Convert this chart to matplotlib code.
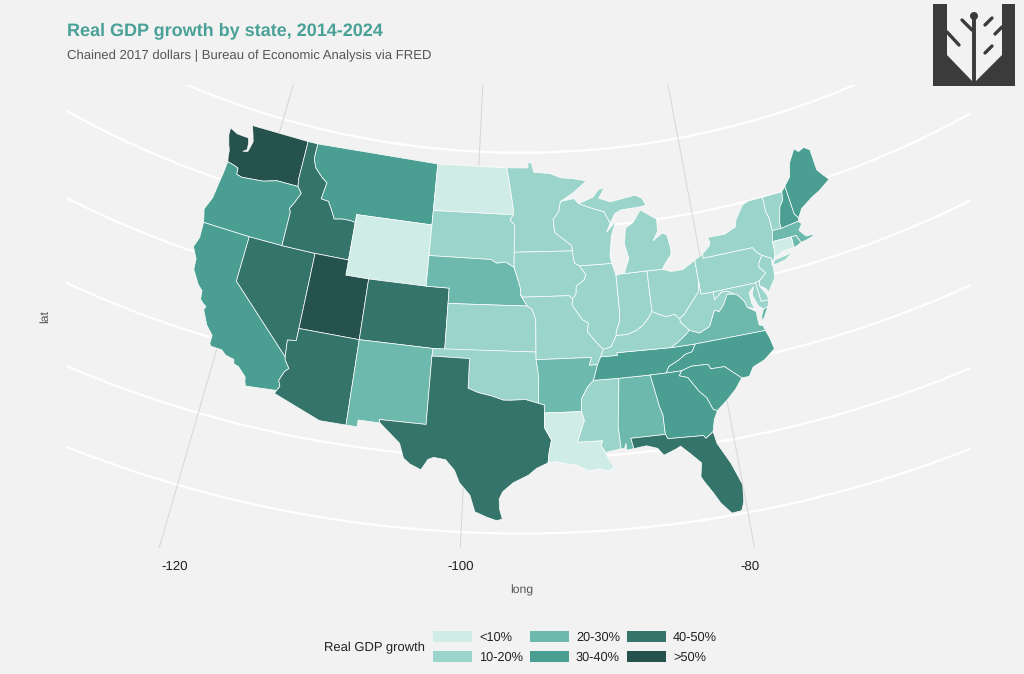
import numpy as np
import matplotlib
matplotlib.use('Agg')
import matplotlib.pyplot as plt
from matplotlib.patches import Patch, Polygon, Circle

plt.rcParams['font.family'] = ['Liberation Sans', 'DejaVu Sans']
plt.rcParams['text.hinting'] = 'no_hinting'
plt.rcParams['text.hinting_factor'] = 8

BG = '#F2F2F2'
W, H = 1024, 674

bin_labels = ['<10%', '10-20%', '20-30%', '30-40%', '40-50%', '>50%']
bin_colors = ['#D0ECE6', '#9BD4CB', '#6DB9AE', '#4A9F92', '#35746B', '#25524C']

# growth bin (index into bin_labels) per state
state_bins = {
    'WY': 0, 'ND': 0, 'LA': 0, 'CT': 0,
    'MN': 1, 'SD': 1, 'WI': 1, 'MI': 1, 'MIU': 1, 'IA': 1, 'IL': 1, 'IN': 1, 'OH': 1, 'KY': 1,
    'WV': 1, 'PA': 1, 'NY': 1, 'LI': 1, 'VT': 1, 'NJ': 1, 'MD': 1, 'DE': 1, 'MO': 1, 'KS': 1,
    'OK': 1, 'MS': 1,
    'NE': 2, 'NM': 2, 'AR': 2, 'AL': 2, 'VA': 2, 'VAE': 2, 'MA': 2, 'RI': 2,
    'OR': 3, 'CA': 3, 'MT': 3, 'TN': 3, 'GA': 3, 'SC': 3, 'NC': 3, 'NH': 3, 'ME': 3,
    'ID': 4, 'NV': 4, 'CO': 4, 'AZ': 4, 'TX': 4, 'FL': 4,
    'WA': 5, 'UT': 5,
}

# shared borders, lon/lat
columbia = [(-116.92, 45.99), (-118.98, 46.0), (-119.3, 45.93), (-120.2, 45.73), (-121.2, 45.65),
            (-122.2, 45.57), (-122.75, 45.65), (-122.8, 46.05), (-123.2, 46.15), (-123.9, 46.25)]
colorado_r = [(-114.63, 35.0), (-114.57, 34.8), (-114.14, 34.3), (-114.43, 34.05), (-114.72, 33.4),
              (-114.53, 33.03), (-114.72, 32.72)]
id_mt = [(-116.05, 48.0), (-115.7, 47.45), (-114.95, 46.95), (-114.35, 46.65), (-114.55, 45.56),
         (-113.85, 45.5), (-113.45, 45.05), (-113.0, 44.45), (-112.3, 44.55), (-111.5, 44.55),
         (-111.05, 44.48)]
red_r = [(-100.0, 34.56), (-99.2, 34.3), (-98.1, 34.1), (-97.2, 33.85), (-96.6, 33.85), (-95.5, 33.9),
         (-94.48, 33.64)]
missouri_r = [(-96.45, 42.5), (-96.1, 41.7), (-95.9, 41.2), (-95.85, 40.7), (-95.77, 40.58)]
miss_upper = [(-91.22, 43.5), (-91.1, 42.7), (-90.65, 42.5), (-90.15, 41.9), (-90.35, 41.55),
              (-91.05, 41.2), (-91.1, 40.7), (-91.42, 40.38)]
miss_il_mo = [(-91.42, 40.38), (-91.5, 40.0), (-90.7, 39.0), (-90.2, 38.75), (-90.35, 38.2),
              (-89.5, 37.3), (-89.13, 36.98)]
miss_ar = [(-90.1, 35.0), (-90.6, 34.6), (-91.15, 33.8), (-91.17, 33.0)]
ohio_ky_in = [(-84.82, 39.1), (-85.2, 38.7), (-85.7, 38.3), (-86.3, 38.0), (-87.1, 37.8), (-88.0, 37.8)]
ohio_ky_oh = [(-82.6, 38.4), (-83.0, 38.72), (-83.7, 38.65), (-84.25, 38.85), (-84.82, 39.1)]
ohio_ky_il = [(-88.0, 37.8), (-88.5, 37.1), (-89.13, 36.98)]
ohio_wv = [(-80.52, 40.64), (-80.7, 39.9), (-81.75, 39.0), (-82.2, 38.6), (-82.6, 38.4)]
va_wv = [(-77.75, 39.32), (-78.35, 39.4), (-78.85, 38.75), (-79.3, 38.4), (-79.65, 38.55),
         (-80.3, 37.55), (-81.2, 37.25), (-81.97, 37.54)]
ky_va = [(-83.68, 36.6), (-83.1, 36.85), (-82.3, 37.3), (-81.97, 37.54)]
tn_nc = [(-81.68, 36.59), (-82.05, 36.12), (-82.6, 36.03), (-83.2, 35.72), (-84.05, 35.4), (-84.32, 35.0)]
nc_sc = [(-83.1, 35.0), (-82.3, 35.2), (-81.05, 35.15), (-80.93, 35.1), (-80.8, 34.82), (-79.7, 34.8),
         (-78.55, 33.85)]
ga_sc = [(-83.1, 35.0), (-83.35, 34.7), (-82.7, 34.5), (-82.0, 33.5), (-81.5, 33.0), (-81.15, 32.15),
         (-80.85, 32.05)]
ny_pa_nj = [(-75.35, 42.0), (-75.05, 41.6), (-74.7, 41.36)]
pa_nj = [(-74.7, 41.36), (-75.1, 40.95), (-75.2, 40.65), (-74.75, 40.2), (-75.4, 39.8)]
md_va = [(-76.35, 38.1), (-76.95, 38.3), (-77.05, 38.7), (-77.5, 39.2), (-77.75, 39.32)]
md_wv = [(-77.75, 39.32), (-78.35, 39.6), (-78.8, 39.6), (-79.48, 39.2), (-79.48, 39.72)]
vt_nh = [(-71.5, 45.01), (-71.6, 44.5), (-72.05, 44.1), (-72.45, 43.1), (-72.46, 42.73)]
rev = lambda pts: pts[::-1]

states = {
    'WA': [(-124.7, 48.4), (-123.9, 48.17), (-123.1, 48.15), (-122.75, 48.15), (-122.6, 47.9), (-122.5, 47.4),
           (-122.85, 47.2), (-122.4, 47.3), (-122.3, 47.6), (-122.2, 48.0), (-122.45, 48.5), (-122.75, 49.0),
           (-117.03, 49.0), (-117.04, 46.43)] + columbia
          + [(-124.05, 46.65), (-124.1, 46.95), (-124.35, 47.35), (-124.65, 47.95)],
    'OR': rev(columbia) + [(-116.47, 45.6), (-116.85, 44.95), (-117.2, 44.45), (-117.03, 44.25), (-117.03, 42.0),
                           (-120.0, 42.0), (-124.2, 42.0), (-124.4, 42.5), (-124.55, 42.84), (-124.15, 43.7),
                           (-124.05, 44.7), (-123.95, 45.5)],
    'CA': [(-124.2, 42.0), (-120.0, 42.0), (-120.0, 39.0)] + colorado_r
          + [(-117.12, 32.53), (-117.25, 32.85), (-117.3, 33.1), (-118.0, 33.65), (-118.4, 33.75), (-118.5, 34.03),
             (-119.2, 34.15), (-119.6, 34.42), (-120.5, 34.45), (-120.65, 34.6), (-120.65, 35.15), (-121.3, 35.7),
             (-121.9, 36.6), (-121.8, 36.85), (-122.05, 36.95), (-122.4, 37.2), (-122.5, 37.75), (-122.95, 38.05),
             (-123.7, 38.9), (-123.8, 39.6), (-124.35, 40.3), (-124.1, 41.0)],
    'NV': [(-120.0, 42.0), (-117.03, 42.0), (-114.04, 42.0), (-114.04, 37.0), (-114.04, 36.2), (-114.75, 36.1),
           (-114.63, 35.0), (-120.0, 39.0)],
    'ID': [(-117.03, 49.0), (-116.05, 49.0)] + id_mt
          + [(-111.05, 42.0), (-114.04, 42.0), (-117.03, 42.0), (-117.03, 44.25), (-117.2, 44.45), (-116.85, 44.95),
             (-116.47, 45.6), (-116.92, 45.99), (-117.04, 46.43)],
    'MT': [(-116.05, 49.0), (-104.05, 49.0), (-104.05, 45.94), (-104.05, 45.0), (-111.05, 45.0)] + rev(id_mt),
    'WY': [(-111.05, 45.0), (-104.05, 45.0), (-104.05, 43.0), (-104.05, 41.0), (-109.05, 41.0), (-111.05, 41.0)],
    'UT': [(-114.04, 42.0), (-111.05, 42.0), (-111.05, 41.0), (-109.05, 41.0), (-109.05, 37.0), (-114.04, 37.0)],
    'CO': [(-109.05, 41.0), (-104.05, 41.0), (-102.05, 41.0), (-102.05, 40.0), (-102.05, 37.0), (-103.0, 37.0),
           (-109.05, 37.0)],
    'AZ': [(-114.04, 37.0), (-109.05, 37.0), (-109.05, 31.33), (-111.07, 31.33), (-114.82, 32.5)] + rev(colorado_r)
          + [(-114.75, 36.1), (-114.04, 36.2)],
    'NM': [(-109.05, 37.0), (-103.0, 37.0), (-103.04, 36.5), (-103.05, 32.0), (-106.62, 32.0), (-106.53, 31.78),
           (-108.2, 31.78), (-108.2, 31.33), (-109.05, 31.33)],
    'ND': [(-104.05, 49.0), (-97.23, 49.0), (-96.85, 47.6), (-96.55, 46.3), (-96.56, 45.94), (-104.05, 45.94)],
    'SD': [(-104.05, 45.94), (-96.56, 45.94), (-96.85, 45.6), (-96.45, 45.3), (-96.45, 43.5), (-96.45, 42.5),
           (-97.2, 42.85), (-98.0, 42.77), (-98.5, 43.0), (-104.05, 43.0)],
    'NE': [(-104.05, 43.0), (-98.5, 43.0), (-98.0, 42.77), (-97.2, 42.85)] + missouri_r
          + [(-95.3, 40.0), (-102.05, 40.0), (-102.05, 41.0), (-104.05, 41.0)],
    'KS': [(-102.05, 40.0), (-95.3, 40.0), (-94.9, 39.8), (-94.6, 39.1), (-94.62, 37.0), (-102.05, 37.0)],
    'OK': [(-103.0, 37.0), (-94.62, 37.0), (-94.62, 36.5), (-94.43, 35.4), (-94.48, 33.64)] + rev(red_r)
          + [(-100.0, 36.5), (-103.04, 36.5)],
    'TX': [(-103.04, 36.5), (-100.0, 36.5)] + red_r
          + [(-94.04, 33.55), (-94.04, 33.0), (-94.04, 32.0), (-93.55, 31.2), (-93.75, 30.4), (-93.85, 29.7),
             (-94.7, 29.35), (-95.3, 28.9), (-96.4, 28.4), (-97.15, 27.8), (-97.4, 27.3), (-97.35, 26.6),
             (-97.15, 25.96), (-97.55, 25.85), (-98.2, 26.05), (-99.1, 26.4), (-99.5, 27.5), (-100.3, 28.3),
             (-100.7, 29.1), (-101.4, 29.77), (-102.3, 29.87), (-102.7, 29.7), (-103.15, 28.98), (-104.0, 29.3),
             (-104.5, 29.65), (-104.9, 30.6), (-106.0, 31.4), (-106.53, 31.78), (-106.62, 32.0), (-103.05, 32.0)],
    'MN': [(-97.23, 49.0), (-95.15, 49.0), (-95.15, 49.38), (-94.8, 49.3), (-94.6, 48.72), (-93.0, 48.6),
           (-92.0, 48.3), (-90.8, 48.2), (-89.5, 48.0), (-90.8, 47.3), (-92.1, 46.75), (-92.3, 46.1), (-92.85, 45.6),
           (-92.75, 44.75), (-91.25, 43.85), (-91.22, 43.5), (-96.45, 43.5), (-96.45, 45.3), (-96.85, 45.6),
           (-96.56, 45.94), (-96.55, 46.3), (-96.85, 47.6)],
    'IA': [(-96.45, 43.5)] + miss_upper + [(-91.72, 40.6), (-95.77, 40.58)] + rev(missouri_r),
    'MO': [(-95.77, 40.58), (-91.72, 40.6)] + miss_il_mo
          + [(-89.4, 36.5), (-89.7, 36.0), (-90.37, 36.0), (-90.15, 36.5), (-94.62, 36.5), (-94.62, 37.0), (-94.6, 39.1),
             (-94.9, 39.8), (-95.3, 40.0), (-95.85, 40.7)],
    'AR': [(-94.62, 36.5), (-90.15, 36.5), (-90.37, 36.0), (-89.7, 36.0)] + miss_ar
          + [(-94.04, 33.0), (-94.04, 33.55), (-94.48, 33.64), (-94.43, 35.4)],
    'LA': [(-94.04, 33.0), (-91.17, 33.0), (-91.0, 32.4), (-91.6, 31.0), (-89.73, 31.0), (-89.85, 30.65),
           (-89.55, 30.2), (-89.4, 29.8), (-89.0, 29.2), (-89.4, 28.95), (-90.1, 29.15), (-90.9, 29.05), (-91.8, 29.5),
           (-92.3, 29.55), (-93.2, 29.77), (-93.85, 29.7), (-93.75, 30.4), (-93.55, 31.2), (-94.04, 32.0)],
    'MS': [(-90.1, 35.0), (-88.2, 35.0), (-88.1, 34.9), (-88.47, 31.9), (-88.4, 30.37), (-89.55, 30.2),
           (-89.85, 30.65), (-89.73, 31.0), (-91.6, 31.0), (-91.0, 32.4)] + rev(miss_ar),
    'AL': [(-88.2, 35.0), (-85.6, 35.0), (-85.18, 32.87), (-85.0, 32.3), (-85.0, 31.0), (-87.6, 31.0), (-87.45, 30.3),
           (-88.0, 30.25), (-88.0, 30.7), (-88.15, 30.35), (-88.4, 30.37), (-88.47, 31.9), (-88.1, 34.9)],
    'TN': [(-89.7, 36.0), (-89.4, 36.5), (-88.05, 36.5), (-88.07, 36.68), (-83.68, 36.6)] + tn_nc
          + [(-85.6, 35.0), (-88.2, 35.0), (-90.1, 35.0)],
    'KY': [(-89.13, 36.98), (-89.4, 36.5), (-88.05, 36.5), (-88.07, 36.68)] + ky_va
          + [(-82.6, 38.17)] + ohio_ky_oh + ohio_ky_in + ohio_ky_il[1:],
    'IL': [(-90.65, 42.5), (-87.8, 42.5), (-87.53, 41.7), (-87.53, 39.35), (-87.6, 38.7), (-87.95, 38.1)]
          + ohio_ky_il + rev(miss_il_mo) + [(-91.1, 40.7), (-91.05, 41.2), (-90.35, 41.55), (-90.15, 41.9)],
    'IN': [(-87.53, 41.7), (-87.2, 41.75), (-86.8, 41.76), (-84.8, 41.76)] + ohio_ky_in
          + [(-87.95, 38.1), (-87.6, 38.7), (-87.53, 39.35)],
    'OH': [(-84.8, 41.76), (-83.45, 41.73), (-82.7, 41.5), (-81.7, 41.5), (-80.52, 41.98)] + ohio_wv + ohio_ky_oh[1:],
    'MI': [(-86.8, 41.76), (-84.8, 41.76), (-83.45, 41.73), (-83.15, 42.05), (-82.5, 42.6), (-82.45, 43.0),
           (-82.6, 43.9), (-83.0, 44.07), (-83.9, 43.65), (-83.4, 44.2), (-83.3, 45.0), (-84.7, 45.75), (-85.5, 45.0),
           (-86.25, 44.7), (-86.5, 43.65), (-86.25, 42.7)],
    'MIU': [(-90.4, 46.55), (-89.0, 46.9), (-88.45, 47.35), (-87.85, 47.45), (-88.45, 46.8), (-87.4, 46.5),
            (-85.0, 46.75), (-84.4, 46.5), (-84.1, 46.0), (-84.75, 45.95), (-86.5, 45.9), (-87.1, 45.7), (-87.6, 45.1),
            (-88.1, 45.9), (-89.1, 46.15)],
    'WI': [(-92.1, 46.75), (-90.8, 46.9), (-90.4, 46.55), (-89.1, 46.15), (-88.1, 45.9), (-87.6, 45.1), (-88.0, 44.55),
           (-87.05, 45.25), (-87.6, 44.3), (-87.9, 43.0), (-87.8, 42.5), (-90.65, 42.5), (-91.1, 42.7), (-91.22, 43.5),
           (-91.25, 43.85), (-92.75, 44.75), (-92.85, 45.6), (-92.3, 46.1)],
    'PA': [(-80.52, 41.98), (-79.76, 42.27), (-79.76, 42.0)] + ny_pa_nj + pa_nj
          + [(-75.8, 39.72), (-79.48, 39.72), (-80.52, 39.72), (-80.52, 40.64)],
    'NY': [(-79.76, 42.27), (-79.05, 42.7), (-78.9, 42.95), (-79.05, 43.27), (-77.5, 43.25), (-76.4, 43.55),
           (-76.2, 44.0), (-75.3, 44.85), (-74.7, 45.0), (-73.35, 45.01), (-73.4, 44.0), (-73.25, 43.6), (-73.27, 42.75),
           (-73.5, 42.05), (-73.55, 41.3), (-73.7, 41.0), (-74.0, 40.7), (-73.95, 41.0), (-74.7, 41.36), (-75.05, 41.6),
           (-75.35, 42.0), (-79.76, 42.0)],
    'LI': [(-74.0, 40.6), (-73.7, 40.87), (-72.6, 40.98), (-72.0, 41.1), (-72.8, 40.7), (-73.6, 40.58)],
    'NJ': [(-74.7, 41.36), (-73.95, 41.0), (-74.05, 40.65), (-74.0, 40.4), (-74.1, 39.75), (-74.9, 38.93),
           (-75.05, 39.2), (-75.55, 39.5)] + rev(pa_nj)[:-1],
    'DE': [(-75.8, 39.72), (-75.4, 39.8), (-75.55, 39.5), (-75.1, 38.8), (-75.05, 38.45), (-75.7, 38.46)],
    'MD': [(-79.48, 39.72), (-75.8, 39.72), (-75.7, 38.46), (-75.05, 38.45), (-75.25, 38.03), (-75.65, 37.95),
           (-76.0, 38.2), (-76.3, 39.0), (-76.05, 39.5), (-76.5, 39.2), (-76.5, 38.5)] + md_va + md_wv[1:],
    'VA': [(-83.68, 36.6), (-81.68, 36.59), (-75.9, 36.55), (-76.0, 36.9), (-76.3, 37.0), (-76.3, 37.5), (-76.3, 37.9)]
          + md_va[1:] + va_wv[1:] + rev(ky_va)[1:],
    'VAE': [(-75.65, 37.95), (-75.25, 38.03), (-75.95, 37.15), (-75.95, 37.5)],
    'WV': [(-80.52, 40.64), (-80.52, 39.72), (-79.48, 39.72)] + rev(md_wv)[1:] + va_wv[1:]
          + [(-82.6, 38.17)] + rev(ohio_wv)[:-1],
    'NC': [(-84.32, 35.0)] + rev(tn_nc)[1:] + [(-75.9, 36.55), (-75.7, 36.0), (-75.55, 35.25), (-76.5, 34.7), (-77.5, 34.4),
                                               (-77.95, 33.85)] + rev(nc_sc),
    'SC': nc_sc + [(-79.2, 33.2), (-80.0, 32.6)] + rev(ga_sc),
    'GA': [(-85.6, 35.0), (-84.32, 35.0)] + ga_sc
          + [(-81.2, 31.5), (-81.45, 30.72), (-82.05, 30.36), (-82.2, 30.57), (-84.86, 30.7), (-85.0, 31.0), (-85.0, 32.3),
             (-85.18, 32.87)],
    'FL': [(-87.6, 31.0), (-85.0, 31.0), (-84.86, 30.7), (-82.2, 30.57), (-82.05, 30.36), (-81.45, 30.72), (-81.3, 29.9),
           (-80.55, 28.45), (-80.0, 26.9), (-80.15, 25.75), (-80.4, 25.2), (-81.1, 25.15), (-81.75, 25.95), (-82.15, 26.7),
           (-82.7, 27.6), (-82.85, 27.9), (-82.65, 28.8), (-83.4, 29.55), (-84.0, 30.1), (-84.35, 29.95), (-85.3, 29.65),
           (-85.7, 30.15), (-86.5, 30.4), (-87.45, 30.3)],
    'VT': [(-73.35, 45.01)] + vt_nh + [(-73.27, 42.75), (-73.25, 43.6), (-73.4, 44.0)],
    'NH': [(-71.08, 45.3), (-70.98, 43.4), (-70.7, 43.07), (-70.82, 42.87)] + rev(vt_nh),
    'ME': [(-71.08, 45.3), (-70.4, 45.8), (-70.25, 46.2), (-70.0, 46.7), (-69.23, 47.46), (-68.9, 47.2), (-68.3, 47.35),
           (-67.8, 47.07), (-67.8, 45.7), (-67.45, 45.3), (-67.0, 44.85), (-68.2, 44.35), (-69.0, 44.1), (-70.2, 43.6),
           (-70.7, 43.07), (-70.98, 43.4)],
    'MA': [(-73.5, 42.05), (-73.27, 42.75), (-72.46, 42.73), (-70.82, 42.87), (-70.6, 42.65), (-71.0, 42.3), (-70.55, 41.8),
           (-70.05, 41.78), (-70.0, 42.05), (-69.95, 41.67), (-70.6, 41.55), (-71.12, 41.5), (-71.38, 42.02), (-71.8, 42.02)],
    'RI': [(-71.8, 42.02), (-71.38, 42.02), (-71.12, 41.5), (-71.5, 41.37), (-71.85, 41.32)],
    'CT': [(-73.5, 42.05), (-71.8, 42.02), (-71.85, 41.32), (-72.9, 41.25), (-73.7, 41.0), (-73.55, 41.3)],
}

lat_breaks = [25, 30, 35, 40, 45, 50]
lon_breaks = [-120, -100, -80]

# albers, lat0=39 lat1=45 like coord_map
N = (np.sin(np.radians(39)) + np.sin(np.radians(45))) / 2
C = np.cos(np.radians(39))**2 + 2 * N * np.sin(np.radians(39))
LON0 = -95.84


def project(lon, lat):
    lon, lat = np.asarray(lon, float), np.asarray(lat, float)
    rho = np.sqrt(C - 2 * N * np.sin(np.radians(lat))) / N
    theta = np.radians(N * (lon - LON0))
    return rho * np.sin(theta), -rho * np.cos(theta)


# panel position in pixels and the map scale that fits it
PANEL = (67, 971, 85, 548)
SCALE, X0, Y0 = 880, 521, -702

fig = plt.figure(figsize=(W / 100, H / 100), dpi=100, facecolor=BG)
ax = fig.add_axes([PANEL[0] / W, 1 - PANEL[3] / H, (PANEL[1] - PANEL[0]) / W, (PANEL[3] - PANEL[2]) / H])
ax.set_facecolor(BG)
ax.set_xlim((PANEL[0] - X0) / SCALE, (PANEL[1] - X0) / SCALE)
ax.set_ylim(-(PANEL[3] - Y0) / SCALE, -(PANEL[2] - Y0) / SCALE)
for s in ax.spines.values():
    s.set_visible(False)

# graticule
lons = np.linspace(-170, -20, 400)
for lat in lat_breaks:
    x, y = project(lons, np.full_like(lons, lat))
    ax.plot(x, y, color='white', lw=1.6, zorder=1)
lats = np.linspace(15, 60, 50)
for lon in lon_breaks:
    x, y = project(np.full_like(lats, lon), lats)
    ax.plot(x, y, color='#D6D6D6', lw=0.7, zorder=1.5)

for name, pts in states.items():
    lon, lat = zip(*pts)
    x, y = project(lon, lat)
    ax.add_patch(Polygon(np.column_stack([x, y]), closed=True, facecolor=bin_colors[state_bins[name]],
                         edgecolor='white', lw=0.5, joinstyle='round', zorder=2))

tick_x, _ = project(lon_breaks, [24.3] * 3)
ax.set_xticks(tick_x)
ax.set_xticklabels([str(v) for v in lon_breaks], fontsize=9.5, color='#222222')
ax.set_yticks([])
ax.tick_params(axis='x', length=0, pad=9)
ax.set_xlabel('long', fontsize=8.8, color='#555555', labelpad=8.5)
ax.xaxis.label.set_x((522 - PANEL[0]) / (PANEL[1] - PANEL[0]))
ax.set_ylabel('lat', fontsize=8.8, color='#555555', labelpad=11.5)

fig.text(67 / W, 1 - 31 / H, 'Real GDP growth by state, 2014-2024', fontsize=13, fontweight='bold',
         color='#4AA197', va='center')
fig.text(67 / W, 1 - 55.5 / H, 'Chained 2017 dollars | Bureau of Economic Analysis via FRED', fontsize=9.45,
         color='#555555', va='center')

# legend
handles = [Patch(facecolor=c, edgecolor='none', label=l) for c, l in zip(bin_colors, bin_labels)]
leg = fig.legend(handles=handles, ncol=3, loc='center left', bbox_to_anchor=(433 / W, 1 - 647.5 / H), frameon=False,
                 fontsize=9.2, handlelength=3.05, handleheight=0.94, handletextpad=0.55, columnspacing=0.55,
                 labelspacing=0.55, borderpad=0, borderaxespad=0, labelcolor='#222222')
fig.text(425 / W, 1 - 648 / H, 'Real GDP growth', fontsize=9.4, color='#222222', ha='right', va='center')

# logo, on a pixel overlay
logo = fig.add_axes([0, 0, 1, 1], facecolor='none')
logo.set_xlim(0, W)
logo.set_ylim(H, 0)
logo.axis('off')
DARK = '#3B3B3B'
logo.add_patch(Polygon([(933, 4), (947, 4), (947, 55), (973, 82), (975, 82), (1002, 55), (1002, 4), (1015, 4),
                        (1015, 86), (933, 86)], closed=True, facecolor=DARK, edgecolor='none'))
logo.add_patch(Circle((974, 16), 4, facecolor=DARK, edgecolor='none'))
logo.plot([974, 974], [16, 82], color=DARK, lw=2.8, solid_capstyle='butt')
branches = [((962, 20), (972, 30)), ((985, 25), (992, 18)), ((995, 34), (1002, 27)), ((985, 53), (992, 46)),
            ((947, 32), (959, 45))]
for a, b in branches:
    logo.plot([a[0], b[0]], [a[1], b[1]], color=DARK, lw=2.4, solid_capstyle='round')

fig.savefig('out.png', dpi=100, facecolor=BG)
